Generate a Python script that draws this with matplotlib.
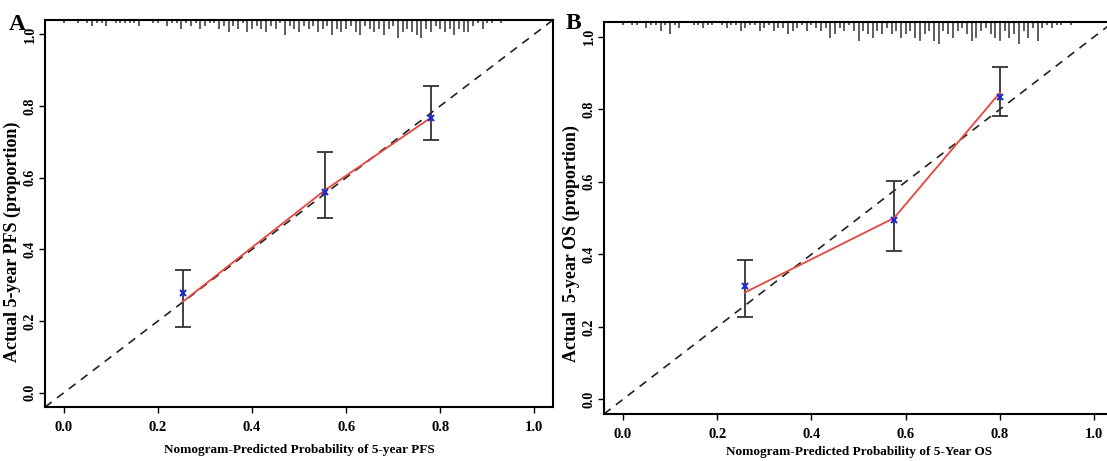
import numpy as np
import matplotlib
matplotlib.use("Agg")
import matplotlib.pyplot as plt

plt.rcParams['font.family'] = ['Liberation Serif', 'DejaVu Serif']
plt.rcParams['font.weight'] = 'bold'

# panel A : 5-year PFS
pred_a = [0.253, 0.555, 0.781]
obs_a = [0.254, 0.565, 0.768]      # red line
corr_a = [0.277, 0.561, 0.765]     # blue x
lo_a = [0.182, 0.486, 0.704]
hi_a = [0.341, 0.670, 0.855]
rug_a = [1,0,0,1,0,1,2,1,1,2,
         0,1,1,1,1,1,2,0,0,1,
         1,0,2,1,1,3,1,2,1,3,
         2,1,1,3,2,4,2,3,1,4,
         3,2,3,4,2,3,1,5,2,3,
         4,2,3,2,4,3,2,5,3,4,
         3,2,4,5,2,3,4,3,5,3,
         2,6,4,3,4,5,6,3,4,2,
         3,4,3,5,3,4,4,2,1,3,
         1,1,0,1]

# panel B : 5-year OS
pred_b = [0.259, 0.575, 0.800]
obs_b = [0.295, 0.500, 0.846]
corr_b = [0.312, 0.496, 0.835]
lo_b = [0.226, 0.410, 0.780]
hi_b = [0.385, 0.603, 0.915]
rug_b = [1,0,1,1,0,2,1,1,3,1,
         4,1,2,0,0,1,1,2,1,1,
         0,1,2,1,1,3,2,1,1,3,
         2,1,3,2,2,4,3,2,1,3,
         1,2,3,2,5,4,2,3,1,3,
         6,3,4,5,3,4,2,4,3,5,
         4,3,5,6,4,3,6,7,3,4,
         5,3,2,4,6,5,3,2,4,5,
         6,3,5,4,7,3,5,2,6,2,
         1,2,1,1,0,1]

ticks = [0.0, 0.2, 0.4, 0.6, 0.8, 1.0]


def panel(ax, pred, obs, corr, lo, hi, rug, xlabel, ylabel, ylab_x, ylab_y, xpad):
    ax.set_xlim(-0.04, 1.04)
    ax.set_ylim(-0.04, 1.04)
    ax.plot([-0.04, 1.04], [-0.04, 1.04], ls=(0, (5, 4)), color='#222222', lw=1.2)
    pred = np.array(pred)
    err = [np.array(corr) - np.array(lo), np.array(hi) - np.array(corr)]
    ax.errorbar(pred, corr, yerr=err, fmt='none', ecolor='#333333', elinewidth=1.3,
                capsize=6, capthick=1.3)
    ax.plot(pred, obs, color='#e8453c', lw=1.3)
    ax.plot(pred, corr, 'x', color='#1a2bd8', ms=4, mew=1.5)
    x = np.arange(len(rug)) * 0.01
    h = np.array(rug)
    keep = h > 0
    ax.vlines(x[keep], 1.04 - h[keep] * 0.0085, 1.04, color='#333333', lw=1.1)
    ax.set_xticks(ticks)
    ax.set_yticks(ticks)
    ax.set_xticklabels(['%.1f' % t for t in ticks], fontsize=10.5, fontweight='bold')
    ax.set_yticklabels(['%.1f' % t for t in ticks], fontsize=10, fontweight='bold',
                       rotation=90, va='center')
    ax.tick_params(direction='out', length=4, width=1)
    ax.tick_params(axis='x', pad=6)
    ax.tick_params(axis='y', pad=2)
    for s in ax.spines.values():
        s.set_linewidth(1.5)
    ax.set_xlabel(xlabel, fontsize=9.5, fontweight='bold', labelpad=xpad)
    ax.set_ylabel(ylabel, fontsize=13, fontweight='bold', va='center')
    ax.yaxis.set_label_coords(ylab_x, ylab_y)


fig = plt.figure(figsize=(11.07, 4.61), dpi=100)
ax1 = fig.add_axes([0.0407, 0.117, 0.459, 0.840])
ax2 = fig.add_axes([0.5456, 0.102, 0.460, 0.850])

panel(ax1, pred_a, obs_a, corr_a, lo_a, hi_a, rug_a,
      'Nomogram-Predicted Probability of 5-year PFS', 'Actual 5-year PFS (proportion)',
      -0.064, 0.426, 7)
panel(ax2, pred_b, obs_b, corr_b, lo_b, hi_b, rug_b,
      'Nomogram-Predicted Probability of 5-Year OS', 'Actual  5-year OS (proportion)',
      -0.064, 0.434, 4)

fig.text(0.008, 0.935, 'A', fontsize=17, fontweight='bold')
fig.text(0.511, 0.938, 'B', fontsize=17, fontweight='bold')

fig.savefig('out.png', dpi=100)
